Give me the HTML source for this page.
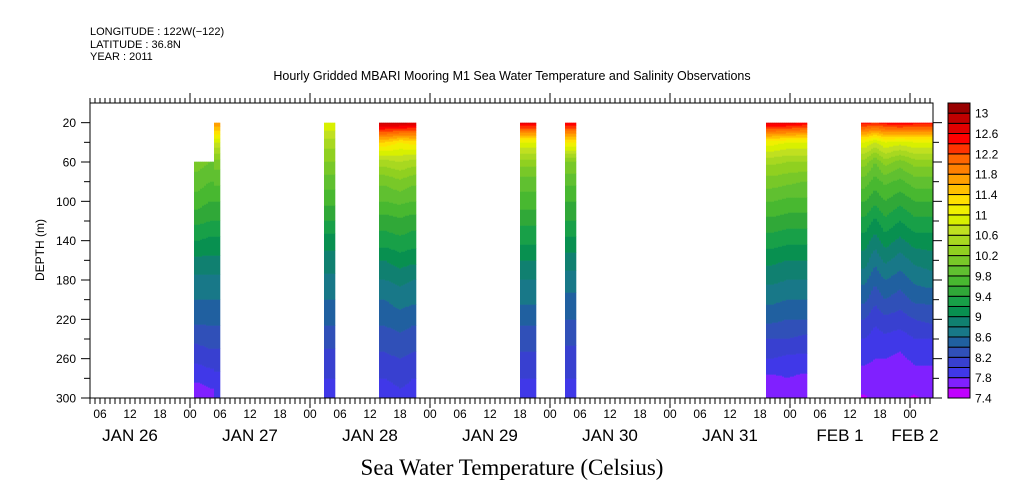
<!DOCTYPE html>
<html><head><meta charset="utf-8"><style>
body{margin:0;background:#fff}
svg{display:block}
text{font-family:"Liberation Sans",sans-serif;fill:#000}
</style></head><body>
<svg id="chart" width="1009" height="504" viewBox="0 0 1009 504" xmlns="http://www.w3.org/2000/svg">
<g font-size="11">
<text x="90" y="35">LONGITUDE : 122W(−122)</text>
<text x="90" y="48">LATITUDE : 36.8N</text>
<text x="90" y="60">YEAR : 2011</text>
</g>
<text x="512" y="80" font-size="12.5" text-anchor="middle">Hourly Gridded MBARI Mooring M1 Sea Water Temperature and Salinity Observations</text>
<g id="field"></g>
<g id="axes" stroke="#000" stroke-width="1" fill="none"></g>
<g id="labels"></g>
<text x="44" y="250" font-size="12" text-anchor="middle" transform="rotate(-90 44 250)">DEPTH (m)</text>
<text x="512" y="475" font-size="23" text-anchor="middle" style="font-family:'Liberation Serif',serif">Sea Water Temperature (Celsius)</text>
<g id="cbar"></g>
</svg>
<script>
// ---- data ----
const depths = [20,40,60,80,100,120,140,160,180,200,220,240,260,280,300];
const levelMin = 7.4, levelStep = 0.2, levelCount = 29;
const colorbarLabels = [13,12.6,12.2,11.8,11.4,11,10.6,10.2,9.8,9.4,9,8.6,8.2,7.8,7.4];
const binColors = ["#c000ff","#8020ff","#4038e8","#3840d0","#3050b8","#2060a0","#187888","#108070","#089050","#18a048","#30a838","#48b830","#60c030","#78c828","#90d020","#a8d820","#c0e020","#d8f000","#f0f000","#ffe000","#ffc000","#ffa000","#ff8000","#ff6600","#ff3300","#ff0000","#e00000","#c00000","#990000"];
const yTicks = [20,60,100,140,180,220,260,300];
const dayLabels = ["JAN 26","JAN 27","JAN 28","JAN 29","JAN 30","JAN 31","FEB 1","FEB 2"];
// hours since Jan 26 00:00
const blockStart = [24.8, 28.8, 50.8, 61.8, 90, 99, 139.2, 158.2];
const blockEnd   = [28.8, 30, 53, 69.2, 93.2, 101.2, 147.4, 172.6];
const blockTimes = [[25.5,28],[29.4],[52],[63,66,68.5],[91.5],[100],[140.5,143.5,146.5],[159,161,163,166,169,172]];
const blockProfiles = [
 [[null,null,10.1,9.9,9.7,9.45,9.2,8.95,8.75,8.6,8.45,8.25,8.05,7.85,7.6],
  [null,null,10.0,9.8,9.6,9.4,9.15,8.95,8.75,8.6,8.45,8.3,8.1,7.9,7.7]],
 [[11.8,10.8,10.1,9.85,9.6,9.4,9.15,8.95,8.75,8.6,8.45,8.3,8.1,7.95,7.8]],
 [[11.0,10.5,10.2,9.9,9.65,9.4,9.1,8.9,8.75,8.6,8.45,8.3,8.1,8.0,7.95]],
 [[12.9,11.4,10.5,10.05,9.8,9.5,9.3,9.0,8.8,8.6,8.45,8.3,8.15,8.0,7.9],
  [12.9,11.2,10.6,10.15,9.85,9.55,9.35,9.1,8.85,8.7,8.5,8.35,8.2,8.05,7.95],
  [12.8,11.3,10.5,10.05,9.8,9.5,9.3,9.05,8.8,8.65,8.45,8.3,8.15,8.0,7.95]],
 [[12.7,11.0,10.3,9.9,9.7,9.45,9.25,9.0,8.8,8.65,8.45,8.3,8.15,8.0,7.95]],
 [[12.6,11.2,10.2,9.85,9.6,9.4,9.15,8.9,8.7,8.55,8.4,8.25,8.1,8.0,7.95]],
 [[12.7,11.1,10.45,10.1,9.8,9.55,9.3,9.05,8.85,8.65,8.45,8.2,8.0,7.75,7.65],
  [12.7,11.0,10.4,10.05,9.75,9.5,9.25,9.0,8.8,8.6,8.4,8.2,7.95,7.8,7.7],
  [12.6,11.0,10.4,10.0,9.75,9.5,9.25,9.0,8.8,8.6,8.4,8.15,7.95,7.75,7.65]],
 [[12.5,11.0,10.3,9.9,9.6,9.35,9.1,8.9,8.65,8.45,8.2,8.0,7.85,7.7,7.58],
  [12.4,10.8,10.0,9.7,9.45,9.15,8.9,8.65,8.45,8.25,8.05,7.9,7.8,7.7,7.65],
  [12.5,11.0,10.3,9.85,9.6,9.35,9.1,8.85,8.6,8.4,8.15,7.95,7.8,7.68,7.62],
  [12.6,10.9,10.1,9.75,9.45,9.2,8.95,8.7,8.5,8.3,8.1,7.9,7.75,7.65,7.62],
  [12.5,11.0,10.3,9.9,9.6,9.35,9.1,8.85,8.65,8.45,8.2,8.0,7.85,7.7,7.58],
  [12.5,11.0,10.3,9.9,9.6,9.35,9.1,8.9,8.7,8.45,8.25,8.0,7.85,7.7,7.65]]
];
// ---- scales ----
const X0=90, X1=933, Y0=103, Y1=398;
const HOUR0 = 4; // left edge = Jan 26 04:00
const xs = h => X0 + (h-HOUR0)*(X1-X0)/(172.6-HOUR0);
const ys = d => Y0 + d*(Y1-Y0)/300;
const NS="http://www.w3.org/2000/svg";
function mk(tag, attrs, parent){const e=document.createElementNS(NS,tag);for(const k in attrs)e.setAttribute(k,attrs[k]);parent.appendChild(e);return e;}
function binOf(v){let b=Math.floor((v-levelMin)/levelStep+1e-9);return Math.max(0,Math.min(levelCount-1,b));}
function profileAt(bi,h){
  const t=blockTimes[bi],p=blockProfiles[bi];
  if(h<=t[0])return p[0];
  if(h>=t[t.length-1])return p[p.length-1];
  for(let i=0;i<t.length-1;i++){if(h<=t[i+1]){const f=(h-t[i])/(t[i+1]-t[i]);return p[i].map((v,k)=>(v===null||p[i+1][k]===null)?null:v+(p[i+1][k]-v)*f);}}
}
function valAt(prof,d){
  let i=Math.min(depths.length-2,Math.max(0,Math.floor((d-20)/20)));
  const a=prof[i],b=prof[i+1];
  if(a===null||b===null){return (d>=depths[i+1]&&b!==null)?b:null;}
  const f=(d-depths[i])/(depths[i+1]-depths[i]);return a+(b-a)*f;
}
const field=document.getElementById('field');
for(let bi=0;bi<blockStart.length;bi++){
  const g=mk('g',{},field);
  
  
  const xa=xs(blockStart[bi]), xb=xs(blockEnd[bi]);
  for(let x=xa;x<xb;x+=2){
    const w=Math.min(2,xb-x);
    const h=HOUR0+(x+w/2-X0)*(172.6-HOUR0)/(X1-X0);
    const prof=profileAt(bi,h);
    let runStart=null,runBin=null;
    const flush=(yEnd)=>{if(runBin!==null){const r=mk('rect',{x:x.toFixed(2),y:runStart.toFixed(2),width:(w+0.3).toFixed(2),height:(yEnd-runStart+0.3).toFixed(2),fill:binColors[runBin]},g);}};
    for(let y=ys(20);y<Y1;y+=1){
      const d=(y+0.5-Y0)*300/(Y1-Y0);
      const v=valAt(prof,Math.max(20,d));
      const b=v===null?null:binOf(v);
      if(b!==runBin){flush(y);runStart=y;runBin=b;}
    }
    flush(Y1);
  }
}
// ---- axes ----
const ax=document.getElementById('axes'), lb=document.getElementById('labels');
mk('rect',{x:X0,y:Y0,width:X1-X0,height:Y1-Y0},ax);
for(let d=20;d<=300;d+=20){
  const y=ys(d), major=yTicks.includes(d);
  mk('line',{x1:X0-(major?9:6),y1:y,x2:X0,y2:y},ax);
  mk('line',{x1:X1,y1:y,x2:X1+(major?9:6),y2:y},ax);
}
yTicks.forEach(d=>{const t=mk('text',{x:X0-14,y:ys(d)+4.5,'font-size':12,'text-anchor':'end'},lb);t.textContent=d;});
for(let h=HOUR0;h<=172;h++){
  const x=xs(h), major=(h%24===0);
  mk('line',{x1:x,y1:Y1,x2:x,y2:Y1+(major?10:6)},ax);
  mk('line',{x1:x,y1:Y0,x2:x,y2:Y0-(major?10:5)},ax);
  if(h%6===0){const t=mk('text',{x:x,y:418,'font-size':12,'text-anchor':'middle'},lb);t.textContent=String(h%24).padStart(2,'0');}
}
dayLabels.forEach((s,i)=>{let x=xs(i*24+12);if(x>X1)x=X1-18;if(i===6)x=xs(i*24+12)-10;const t=mk('text',{x:x,y:441,'font-size':17,'text-anchor':'middle'},lb);t.textContent=s;});
// ---- colorbar ----
const cb=document.getElementById('cbar');
const cbh=(Y1-Y0)/levelCount;
for(let i=0;i<levelCount;i++){
  const r=mk('rect',{x:948,y:(Y1-(i+1)*cbh).toFixed(2),width:22,height:cbh.toFixed(2),fill:binColors[i],stroke:'#000','stroke-width':1},cb);
  
  
}
colorbarLabels.forEach(v=>{const y=Y1-((v-levelMin)/levelStep)*cbh;const t=mk('text',{x:975,y:y+4.5,'font-size':12},cb);t.textContent=v;});
</script>
</body></html>
